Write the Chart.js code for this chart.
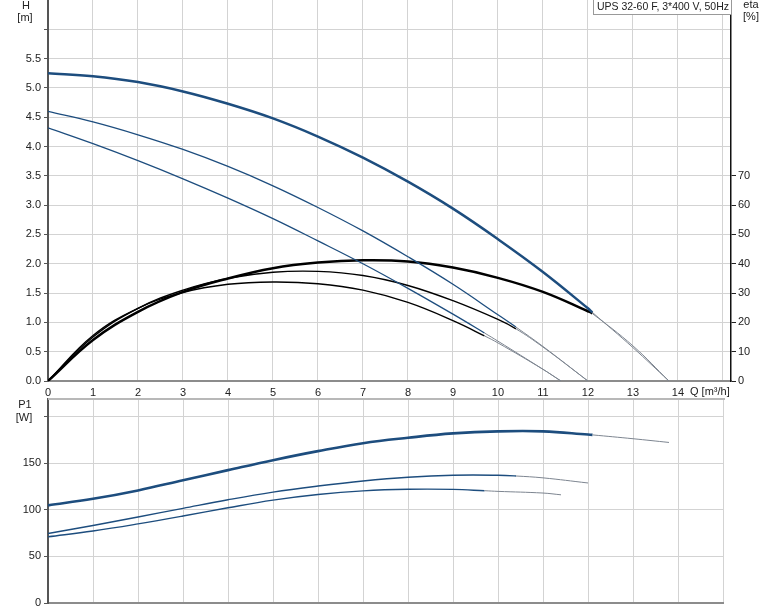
<!DOCTYPE html>
<html>
<head>
<meta charset="utf-8">
<script src="https://cdn.jsdelivr.net/npm/chart.js@4.4.1/dist/chart.umd.min.js"></script>
<style>
  html, body { margin: 0; padding: 0; background: #fff; }
  #wrap { position: relative; width: 774px; height: 611px; overflow: hidden; }
  #top { position: absolute; left: 0; top: 0; }
  #bottom { position: absolute; left: 0; top: 398px; }
</style>
</head>
<body>
<div id="wrap">
  <canvas id="top" width="774" height="398"></canvas>
  <canvas id="bottom" width="774" height="213"></canvas>
</div>
<script>
// tick values
const qTicks = [0, 1, 2, 3, 4, 5, 6, 7, 8, 9, 10, 11, 12, 13, 14, 15];
const hTicks = [0, 0.5, 1, 1.5, 2, 2.5, 3, 3.5, 4, 4.5, 5, 5.5, 6];
const etaTicks = [0, 10, 20, 30, 40, 50, 60, 70];
const p1Ticks = [0, 50, 100, 150, 200];

// speed 3 (max) curves
const qHigh = [0, 1, 2, 3, 4, 5, 6, 7, 8, 9, 10, 11, 12, 12.1, 13, 13.8];
const hHigh = [5.25, 5.2, 5.1, 4.94, 4.73, 4.48, 4.17, 3.81, 3.4, 2.94, 2.42, 1.86, 1.24, 1.17, 0.57, 0];
const etaHigh = [0, 14, 23.6, 30.4, 35, 38.5, 40.4, 41.2, 40.8, 38.7, 35.2, 30.4, 23.8, 23, 12, 0];
const p1High = [104.8, 111.8, 120.8, 131.7, 142.6, 153.3, 163, 171.5, 177.3, 182, 184.2, 184.2, 180.8, 180.4, 176.3, 172.3];

// speed 2
const qMid = [0, 1, 2, 3, 4, 5, 6, 7, 8, 9, 10, 10.4, 11, 12];
const hMid = [4.6, 4.42, 4.2, 3.95, 3.66, 3.33, 2.96, 2.56, 2.12, 1.65, 1.13, 0.92, 0.59, 0];
const etaMid = [0, 15, 24.8, 31, 35, 37.1, 37.4, 36, 32.6, 27.4, 21, 17.8, 11.6, 0];
const p1Mid = [74.6, 83.2, 92.3, 101.6, 110.8, 119, 125.5, 131, 135, 137.1, 137.1, 136.3, 134.3, 128.8];

// speed 1
const qLow = [0, 1, 2, 3, 4, 5, 6, 7, 8, 9, 9.7, 10, 11, 11.4];
const hLow = [4.32, 4.05, 3.76, 3.45, 3.12, 2.77, 2.39, 2.0, 1.58, 1.14, 0.82, 0.68, 0.2, 0];
const etaLow = [0, 15.5, 24.8, 30.2, 33, 33.8, 33.2, 31, 26.8, 20.6, 15.4, 13, 4, 0];
const p1Low = [71.1, 77.3, 84.9, 93.3, 102.2, 110.4, 116.4, 120.3, 122, 121.9, 120.5, 119.8, 118, 116.1];

// flow where each curve leaves its working range
const cutHigh = 12.1;
const cutMid = 10.4;
const cutLow = 9.7;

const BLUE = '#1d4d7e';
const BLACK = '#000000';
const TAIL = '#7d8590';
const GRID = '#d3d3d3';

Chart.defaults.font.family = '"Liberation Sans", Arial, sans-serif';
Chart.defaults.font.size = 11;
Chart.defaults.color = '#222';

function curve(q, vals, axis, color, width, cut) {
  return {
    data: q.map((x, i) => ({ x: x, y: vals[i] })),
    yAxisID: axis,
    borderColor: color,
    borderWidth: width,
    pointRadius: 0,
    fill: false,
    tension: 0.4,
    segment: {
      borderColor: (c) => (c.p0.parsed.x >= cut - 1e-9 ? TAIL : color),
      borderWidth: (c) => (c.p0.parsed.x >= cut - 1e-9 ? 1 : width),
    },
  };
}

function fixTicks(values) {
  return (scale) => {
    scale.ticks = values.map((v) => ({ value: v }));
  };
}

function noPad(w, h) {
  return (scale) => {
    if (w !== null) scale.width = w;
    if (h !== null) scale.height = h;
    scale.paddingTop = 0;
    scale.paddingBottom = 0;
    scale.paddingLeft = 0;
    scale.paddingRight = 0;
  };
}

const topLabels = {
  id: 'topLabels',
  afterDraw(chart) {
    const ctx = chart.ctx;
    ctx.save();
    ctx.fillStyle = '#222';
    ctx.font = '11px "Liberation Sans", Arial, sans-serif';
    ctx.textAlign = 'center';
    ctx.textBaseline = 'middle';
    ctx.fillText('H', 26, 6);
    ctx.fillText('[m]', 25, 18);
    ctx.fillText('eta', 751, 5);
    ctx.fillText('[%]', 751, 17);
    ctx.textAlign = 'left';
    ctx.fillText('Q [m\u00b3/h]', 690, 392);

    // legend box
    const label = 'UPS 32-60 F, 3*400 V, 50Hz';
    ctx.font = '10.5px "Liberation Sans", Arial, sans-serif';
    const w = ctx.measureText(label).width;
    const right = 732;
    const left = right - w - 7;
    ctx.fillStyle = '#fff';
    ctx.fillRect(left, -1, right - left, 16);
    ctx.strokeStyle = '#999';
    ctx.lineWidth = 1;
    ctx.strokeRect(Math.round(left) + 0.5, -0.5, right - Math.round(left) - 1, 15);
    ctx.fillStyle = '#222';
    ctx.fillText(label, left + 4, 7.5);
    ctx.restore();
  },
};

const bottomLabels = {
  id: 'bottomLabels',
  afterDraw(chart) {
    const ctx = chart.ctx;
    const a = chart.chartArea;
    ctx.save();
    ctx.strokeStyle = '#b8b8b8';
    ctx.lineWidth = 2;
    ctx.beginPath();
    ctx.moveTo(a.left, a.top + 1);
    ctx.lineTo(a.right + 2, a.top + 1);
    ctx.stroke();
    ctx.fillStyle = '#222';
    ctx.font = '11px "Liberation Sans", Arial, sans-serif';
    ctx.textAlign = 'center';
    ctx.textBaseline = 'middle';
    ctx.fillText('P1', 25, 7);
    ctx.fillText('[W]', 24, 20);
    ctx.restore();
  },
};

new Chart(document.getElementById('top'), {
  type: 'line',
  data: {
    datasets: [
      curve(qHigh, hHigh, 'y', BLUE, 2.5, cutHigh),
      curve(qMid, hMid, 'y', BLUE, 1.3, cutMid),
      curve(qLow, hLow, 'y', BLUE, 1.3, cutLow),
      curve(qHigh, etaHigh, 'y2', BLACK, 2.5, cutHigh),
      curve(qMid, etaMid, 'y2', BLACK, 1.4, cutMid),
      curve(qLow, etaLow, 'y2', BLACK, 1.4, cutLow),
    ],
  },
  options: {
    responsive: false,
    animation: false,
    layout: { padding: 0 },
    plugins: { legend: { display: false }, tooltip: { enabled: false } },
    scales: {
      x: {
        type: 'linear',
        min: 0,
        max: 15.18,
        afterBuildTicks: fixTicks(qTicks),
        afterFit: noPad(null, 17),
        ticks: {
          padding: 1,
          maxRotation: 0,
          autoSkip: false,
          callback: (v) => (v <= 14 ? String(v) : ''),
        },
        grid: { color: GRID, tickLength: 4, tickColor: 'rgba(0,0,0,0)' },
        border: { color: '#8c8c8c', width: 2 },
      },
      y: {
        type: 'linear',
        position: 'left',
        min: 0,
        max: 6.5,
        afterBuildTicks: fixTicks(hTicks),
        afterFit: noPad(48, null),
        ticks: {
          padding: 3,
          autoSkip: false,
          callback: (v) => (v <= 5.5 ? v.toFixed(1) : ''),
        },
        grid: { color: GRID, tickLength: 4, tickColor: '#555' },
        border: { color: '#555', width: 2 },
      },
      y2: {
        type: 'linear',
        position: 'right',
        min: 0,
        max: 130,
        afterBuildTicks: fixTicks(etaTicks),
        afterFit: noPad(43, null),
        ticks: { padding: 2, autoSkip: false, callback: (v) => String(v) },
        grid: { drawOnChartArea: false, tickLength: 5, tickColor: '#222' },
        border: { color: '#111', width: 1.5 },
      },
    },
  },
  plugins: [topLabels],
});

new Chart(document.getElementById('bottom'), {
  type: 'line',
  data: {
    datasets: [
      curve(qHigh, p1High, 'y', BLUE, 2.6, cutHigh),
      curve(qMid, p1Mid, 'y', BLUE, 1.4, cutMid),
      curve(qLow, p1Low, 'y', BLUE, 1.4, cutLow),
    ],
  },
  options: {
    responsive: false,
    animation: false,
    layout: { padding: { left: 0, top: 0, right: 51, bottom: 0 } },
    plugins: { legend: { display: false }, tooltip: { enabled: false } },
    scales: {
      x: {
        type: 'linear',
        min: 0,
        max: 15,
        afterBuildTicks: fixTicks(qTicks),
        afterFit: noPad(null, 8),
        ticks: { display: false },
        grid: { color: GRID, drawTicks: false },
        border: { color: '#8c8c8c', width: 2 },
      },
      y: {
        type: 'linear',
        position: 'left',
        min: 0,
        max: 220,
        afterBuildTicks: fixTicks(p1Ticks),
        afterFit: noPad(48, null),
        ticks: {
          padding: 3,
          autoSkip: false,
          callback: (v) => (v <= 150 ? String(v) : ''),
        },
        grid: { color: GRID, tickLength: 4, tickColor: '#555' },
        border: { color: '#555', width: 2 },
      },
    },
  },
  plugins: [bottomLabels],
});
</script>
</body>
</html>
